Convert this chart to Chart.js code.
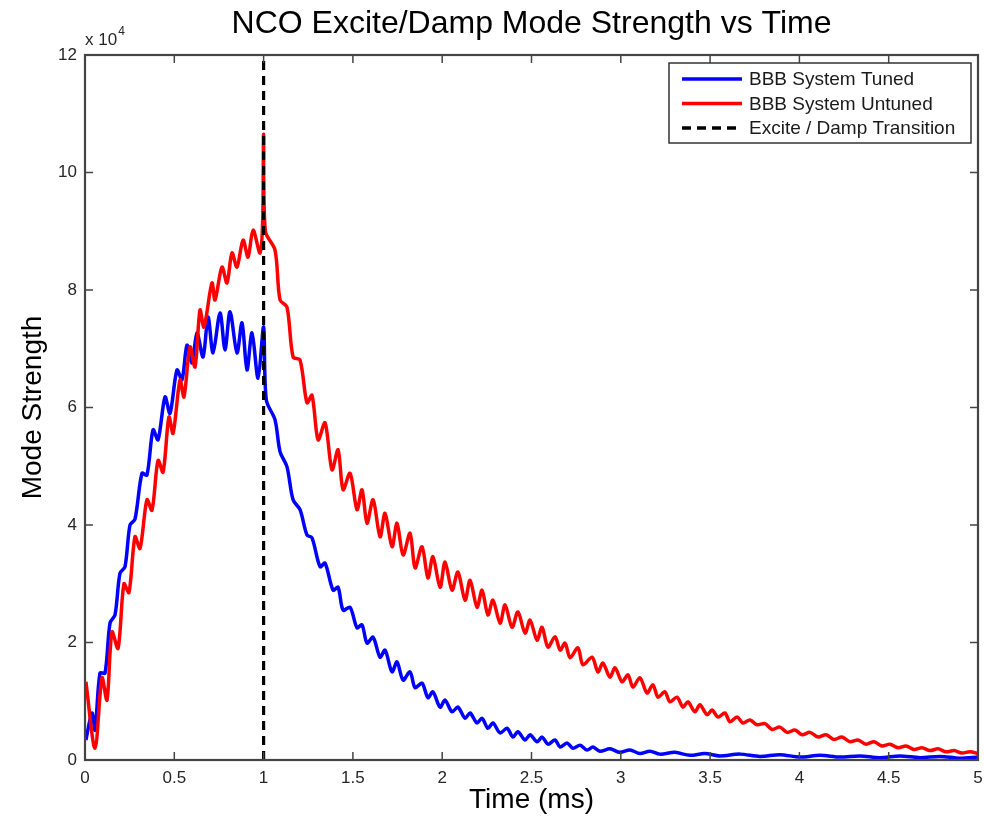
<!DOCTYPE html>
<html><head><meta charset="utf-8">
<script src="https://cdn.jsdelivr.net/npm/chart.js@4.4.1/dist/chart.umd.min.js"></script>
<style>html,body{margin:0;padding:0;background:#fff;}canvas{display:block;}</style>
</head><body>
<canvas id="c" width="984" height="820"></canvas>
<script>
const tunedTime = [0.005,0.039,0.056,0.084,0.112,0.140,0.168,0.196,0.224,0.252,0.280,0.319,0.347,0.381,0.409,0.448,0.476,0.515,0.543,0.571,0.599,0.627,0.661,0.689,0.717,0.756,0.784,0.812,0.851,0.879,0.907,0.935,0.969,1.000,1.015,1.064,1.092,1.131,1.165,1.204,1.243,1.271,1.316,1.344,1.389,1.417,1.445,1.484,1.523,1.551,1.579,1.613,1.652,1.680,1.719,1.747,1.781,1.820,1.848,1.887,1.920,1.948,1.988,2.016,2.055,2.088,2.128,2.156,2.195,2.223,2.256,2.284,2.324,2.363,2.396,2.424,2.464,2.492,2.531,2.559,2.592,2.632,2.660,2.699,2.732,2.772,2.811,2.844,2.883,2.939,2.995,3.051,3.107,3.163,3.219,3.303,3.387,3.471,3.555,3.667,3.779,3.891,4.003,4.115,4.227,4.339,4.451,4.563,4.675,4.787,4.899,5.000];
const tunedValue = [0.34,0.80,0.51,1.48,1.48,2.33,2.47,3.18,3.29,4.00,4.10,4.88,4.85,5.62,5.45,6.18,5.90,6.64,6.47,7.06,6.76,7.27,6.86,7.54,6.93,7.61,6.98,7.63,6.93,7.44,6.64,7.27,6.50,7.37,6.13,5.79,5.25,4.99,4.43,4.26,3.83,3.78,3.29,3.35,2.89,2.94,2.55,2.60,2.25,2.30,1.99,2.09,1.75,1.87,1.50,1.67,1.36,1.50,1.23,1.31,1.06,1.16,0.90,1.02,0.82,0.90,0.71,0.80,0.63,0.71,0.54,0.63,0.46,0.54,0.39,0.48,0.34,0.43,0.31,0.39,0.27,0.34,0.22,0.29,0.20,0.25,0.17,0.22,0.15,0.19,0.13,0.17,0.11,0.15,0.10,0.13,0.08,0.11,0.07,0.10,0.06,0.09,0.05,0.08,0.05,0.07,0.04,0.07,0.04,0.06,0.03,0.05];
const untunedTime = [0.005,0.056,0.095,0.123,0.151,0.185,0.218,0.246,0.280,0.308,0.347,0.375,0.409,0.437,0.470,0.493,0.532,0.554,0.588,0.616,0.644,0.666,0.711,0.728,0.767,0.795,0.823,0.851,0.885,0.913,0.941,0.980,0.995,1.000,1.010,1.064,1.092,1.131,1.165,1.204,1.243,1.271,1.305,1.344,1.383,1.417,1.445,1.484,1.523,1.551,1.579,1.613,1.652,1.680,1.719,1.747,1.781,1.820,1.848,1.887,1.920,1.948,1.988,2.016,2.055,2.088,2.128,2.156,2.195,2.223,2.256,2.284,2.324,2.352,2.391,2.424,2.464,2.492,2.531,2.559,2.592,2.632,2.660,2.688,2.716,2.760,2.788,2.839,2.872,2.900,2.939,2.968,3.007,3.040,3.068,3.107,3.147,3.180,3.208,3.247,3.275,3.315,3.348,3.376,3.415,3.443,3.483,3.511,3.544,3.583,3.611,3.651,3.684,3.723,3.763,3.807,3.847,3.891,3.931,3.975,4.015,4.059,4.104,4.149,4.194,4.238,4.283,4.328,4.373,4.418,4.462,4.507,4.552,4.597,4.642,4.686,4.731,4.776,4.821,4.866,4.910,4.955,5.000];
const untunedValue = [1.33,0.20,1.40,1.02,2.18,1.90,3.00,2.85,3.80,3.60,4.43,4.25,5.10,4.90,5.84,5.56,6.47,6.18,7.03,6.69,7.66,7.37,8.12,7.83,8.39,8.12,8.63,8.39,8.85,8.56,9.02,8.63,9.20,10.65,9.00,8.68,7.83,7.71,6.86,6.81,6.08,6.21,5.45,5.74,4.94,5.28,4.60,4.88,4.26,4.60,4.03,4.43,3.80,4.20,3.63,4.03,3.49,3.86,3.27,3.63,3.10,3.46,2.94,3.37,2.89,3.20,2.72,3.06,2.60,2.89,2.47,2.72,2.33,2.64,2.26,2.52,2.16,2.38,2.04,2.26,1.92,2.10,1.87,1.99,1.74,1.91,1.62,1.75,1.50,1.65,1.41,1.57,1.33,1.45,1.24,1.40,1.14,1.28,1.07,1.16,0.99,1.07,0.90,0.99,0.82,0.94,0.77,0.85,0.73,0.80,0.65,0.73,0.63,0.68,0.60,0.62,0.52,0.56,0.47,0.51,0.43,0.47,0.39,0.43,0.35,0.39,0.31,0.34,0.27,0.31,0.24,0.27,0.21,0.24,0.18,0.21,0.16,0.19,0.14,0.16,0.12,0.14,0.11];
const transitionTime = [1, 1];
const transitionValue = [0, 12];
const xTicks = [0, 0.5, 1, 1.5, 2, 2.5, 3, 3.5, 4, 4.5, 5];
const yTicks = [0, 2, 4, 6, 8, 10, 12];
const seriesLabels = ['BBB System Tuned', 'BBB System Untuned', 'Excite / Damp Transition'];
const seriesColors = ['#0000ff', '#ff0000', '#000000'];
const titleText = 'NCO Excite/Damp Mode Strength vs Time';
const xTitle = 'Time (ms)';
const yTitle = 'Mode Strength';

const FONT = '"Liberation Sans", Arial, Helvetica, sans-serif';
const pts = (xs, ys) => xs.map((t, i) => ({x: t, y: ys[i]}));

const framePlugin = {
  id: 'frame',
  afterDatasetsDraw(chart) {
    const {ctx, chartArea: a, scales: {x, y}} = chart;
    ctx.save();
    ctx.strokeStyle = '#444';
    ctx.lineWidth = 1.5;
    const ln = (x1, y1, x2, y2) => { ctx.beginPath(); ctx.moveTo(x1, y1); ctx.lineTo(x2, y2); ctx.stroke(); };
    xTicks.forEach(v => { const p = x.getPixelForValue(v); ln(p, a.bottom, p, a.bottom - 8); ln(p, a.top, p, a.top + 8); });
    yTicks.forEach(v => { const p = y.getPixelForValue(v); ln(a.left, p, a.left + 8, p); ln(a.right, p, a.right - 8, p); });
    ctx.lineWidth = 2.2;
    ctx.strokeRect(a.left, a.top, a.right - a.left, a.bottom - a.top);
    ctx.fillStyle = '#262626';
    ctx.textBaseline = 'alphabetic';
    ctx.textAlign = 'left';
    ctx.font = '17px ' + FONT;
    ctx.fillText('x 10', a.left, a.top - 10);
    const w = ctx.measureText('x 10').width;
    ctx.font = '12px ' + FONT;
    ctx.fillText('4', a.left + w + 1, a.top - 20);
    ctx.restore();
  },
  afterDraw(chart) {
    const {ctx, chartArea: a} = chart;
    const bw = 302, bh = 80;
    const left = a.right - 7 - bw, top = a.top + 8;
    ctx.save();
    ctx.fillStyle = '#fff';
    ctx.fillRect(left, top, bw, bh);
    ctx.strokeStyle = '#333';
    ctx.lineWidth = 1.5;
    ctx.strokeRect(left, top, bw, bh);
    ctx.font = '19px ' + FONT;
    ctx.textBaseline = 'middle';
    ctx.textAlign = 'left';
    seriesLabels.forEach((lab, i) => {
      const yy = top + 16 + i * 24.5;
      ctx.beginPath();
      ctx.strokeStyle = seriesColors[i];
      ctx.lineWidth = 3.5;
      ctx.setLineDash(i === 2 ? [9, 6] : []);
      ctx.moveTo(left + 13, yy); ctx.lineTo(left + 73, yy); ctx.stroke();
      ctx.setLineDash([]);
      ctx.fillStyle = '#1a1a1a';
      ctx.fillText(lab, left + 80, yy + 1);
    });
    ctx.restore();
  }
};

new Chart(document.getElementById('c'), {
  type: 'line',
  data: {
    datasets: [
      {label: seriesLabels[0], data: pts(tunedTime, tunedValue), borderColor: seriesColors[0], borderWidth: 3.5, pointRadius: 0, tension: 0.3, order: 2, borderJoinStyle: 'round'},
      {label: seriesLabels[1], data: pts(untunedTime, untunedValue), borderColor: seriesColors[1], borderWidth: 3.5, pointRadius: 0, tension: 0.3, order: 1, borderJoinStyle: 'round'},
      {label: seriesLabels[2], data: pts(transitionTime, transitionValue), borderColor: seriesColors[2], borderWidth: 3.2, borderDash: [9, 6], pointRadius: 0, order: 0}
    ]
  },
  options: {
    responsive: false,
    animation: false,
    events: [],
    layout: {padding: {left: 0, right: 6, top: 0, bottom: 0}},
    plugins: {
      legend: {display: false},
      tooltip: {enabled: false},
      title: {display: true, text: titleText, fullSize: false, color: '#000', font: {family: FONT, size: 32, weight: 'normal'}, padding: {top: 5, bottom: 11.6}}
    },
    scales: {
      x: {
        type: 'linear', min: 0, max: 5,
        afterBuildTicks: s => { s.ticks = xTicks.map(v => ({value: v})); },
        afterFit: s => { s.height = 60; s.paddingRight = 0; s.paddingLeft = 0; },
        grid: {display: false, drawTicks: false}, border: {display: false},
        ticks: {color: '#262626', font: {family: FONT, size: 17}, padding: 8, callback: v => String(v), maxRotation: 0, autoSkip: false},
        title: {display: true, text: xTitle, color: '#000', font: {family: FONT, size: 28}, padding: {top: 0, bottom: 3}}
      },
      y: {
        type: 'linear', min: 0, max: 12,
        afterBuildTicks: s => { s.ticks = yTicks.map(v => ({value: v})); },
        afterFit: s => { s.width = 85; },
        grid: {display: false, drawTicks: false}, border: {display: false},
        ticks: {color: '#262626', font: {family: FONT, size: 17}, padding: 8, callback: v => String(v), autoSkip: false},
        title: {display: true, text: yTitle, color: '#000', font: {family: FONT, size: 28}, padding: {top: 16, bottom: 0}}
      }
    }
  },
  plugins: [framePlugin]
});
</script>
</body></html>
